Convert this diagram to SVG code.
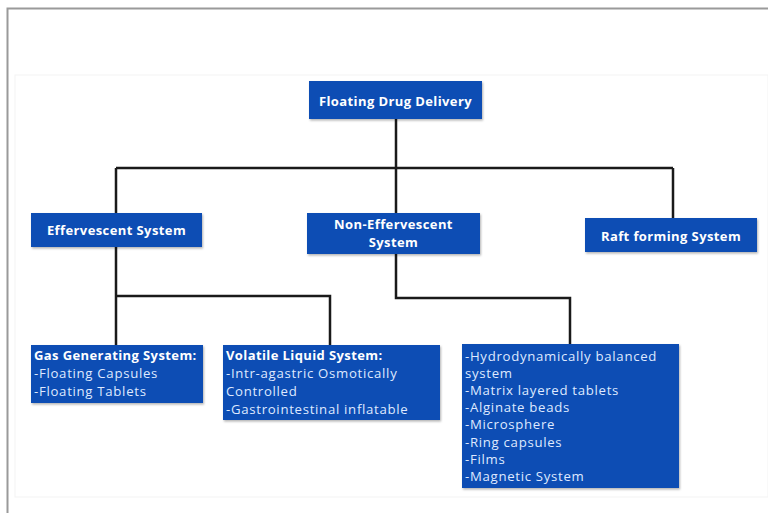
<svg xmlns="http://www.w3.org/2000/svg" width="768" height="513" viewBox="0 0 768 513">
<defs>
<filter id="sh" x="-5%" y="-5%" width="115%" height="130%">
<feDropShadow dx="1" dy="1.5" stdDeviation="1" flood-color="#000" flood-opacity="0.3"/>
</filter>
</defs>
<style>
.box{fill:#0a4eb4;filter:url(#sh)}
.t{font-family:"Open Sans","Noto Sans",sans-serif;fill:#ffffff}
.h{font-weight:bold;font-size:13px;letter-spacing:0.4px}
.l{font-size:13.2px;letter-spacing:0.7px;fill:#dfe9ff}
.c{text-anchor:middle}
.ln{stroke:#1a1a1a;stroke-width:2.5;fill:none}
</style>
<rect x="0" y="0" width="768" height="513" fill="#ffffff"/>
<path d="M7.5 513 V8.5 H768" stroke="#9a9a9a" stroke-width="2" fill="none"/>
<rect x="15" y="75" width="753" height="422" fill="none" stroke="#f3f3f3" stroke-width="1"/>
<g id="connectors">
<path class="ln" d="M396 119 V168 M116 168 H673 M116 168 V213 M396 168 V213 M673 168 V218"/>
<path class="ln" d="M116 247 V345 M116 296 H330 V345"/>
<path class="ln" d="M396 254 V298 H570 V344"/>
</g>
<g id="root">
<rect class="box" x="309" y="81" width="173" height="38"/>
<text class="t h c" x="395.5" y="106">Floating Drug Delivery</text>
</g>
<g id="effervescent">
<rect class="box" x="31" y="213" width="171" height="34"/>
<text class="t h c" x="116.5" y="235">Effervescent System</text>
</g>
<g id="non-effervescent">
<rect class="box" x="307" y="213" width="173" height="41"/>
<text class="t h c" x="393.5" y="229">Non-Effervescent</text>
<text class="t h c" x="393.5" y="247">System</text>
</g>
<g id="raft">
<rect class="box" x="585" y="218" width="172" height="34"/>
<text class="t h c" x="671" y="241">Raft forming System</text>
</g>
<g id="gas">
<rect class="box" x="31" y="345" width="172" height="58"/>
<text class="t h" x="34" y="360">Gas Generating System:</text>
<text class="t l" x="34" y="378">-Floating Capsules</text>
<text class="t l" x="34" y="396">-Floating Tablets</text>
</g>
<g id="volatile">
<rect class="box" x="223" y="345" width="217" height="75"/>
<text class="t h" x="226" y="360">Volatile Liquid System:</text>
<text class="t l" x="226" y="378">-Intr-agastric Osmotically</text>
<text class="t l" x="226" y="396">Controlled</text>
<text class="t l" x="226" y="414">-Gastrointestinal inflatable</text>
</g>
<g id="non-eff-list">
<rect class="box" x="462" y="344" width="217" height="144"/>
<text class="t l" x="465" y="361">-Hydrodynamically balanced</text>
<text class="t l" x="465" y="378">system</text>
<text class="t l" x="465" y="395">-Matrix layered tablets</text>
<text class="t l" x="465" y="412">-Alginate beads</text>
<text class="t l" x="465" y="429">-Microsphere</text>
<text class="t l" x="465" y="447">-Ring capsules</text>
<text class="t l" x="465" y="464">-Films</text>
<text class="t l" x="465" y="481">-Magnetic System</text>
</g>
</svg>
